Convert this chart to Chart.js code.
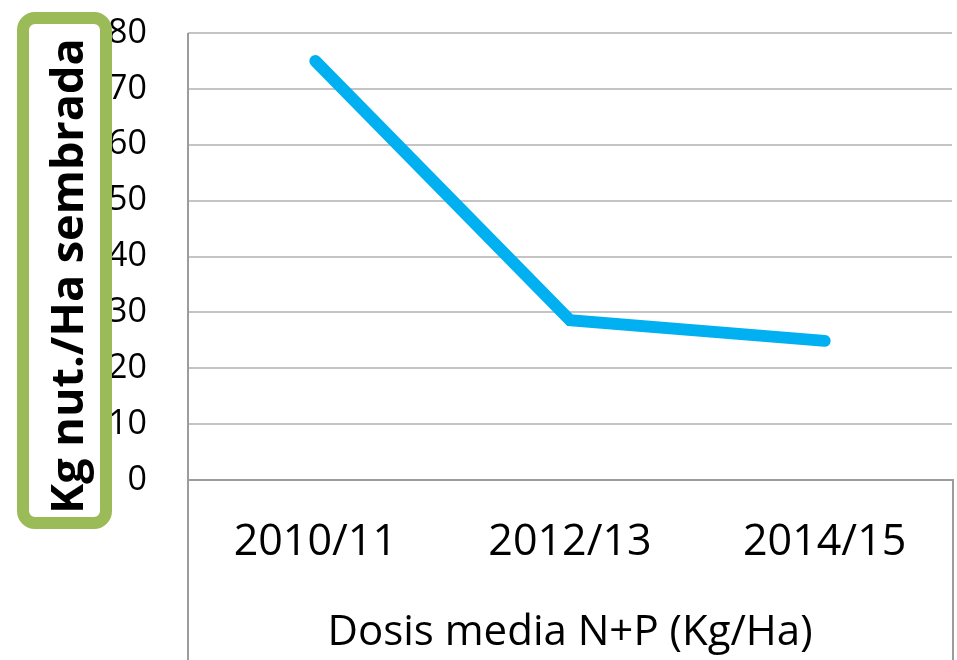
<!DOCTYPE html>
<html lang="es">
<head>
<meta charset="utf-8">
<title>Dosis media N+P</title>
<script src="https://cdn.jsdelivr.net/npm/chart.js@4.4.1/dist/chart.umd.min.js"></script>
<style>
    html, body { margin: 0; padding: 0; background: #fff; }
    #wrap { width: 957px; height: 660px; }
</style>
</head>
<body>
<div id="wrap"><canvas id="chart" width="957" height="660"></canvas></div>
<script>
/* ============================
   Data
   ============================ */
const campaigns = ['2010/11', '2012/13', '2014/15'];
const doseValues = [75, 28.6, 24.9];
const yTicks = [0, 10, 20, 30, 40, 50, 60, 70, 80];

const yTitle = 'Kg nut./Ha sembrada';
const xTitle = 'Dosis media N+P (Kg/Ha)';

const FONT = '"Open Sans", "Noto Sans", sans-serif';
const AXIS_GRAY = '#9c9c9c';

// Box under the plot area + vertical axis running to the bottom edge
const frameLines = {
    id: 'frameLines',
    afterDraw(chart) {
        const { ctx, chartArea } = chart;
        const h = chart.height;
        ctx.save();
        ctx.strokeStyle = AXIS_GRAY;
        ctx.lineWidth = 2;
        ctx.beginPath();
        ctx.moveTo(chartArea.left, chartArea.top);
        ctx.lineTo(chartArea.left, h);
        ctx.moveTo(chartArea.left, chartArea.bottom);
        ctx.lineTo(chartArea.right + 1, chartArea.bottom);
        ctx.lineTo(chartArea.right + 1, h);
        ctx.stroke();
        ctx.restore();
    }
};

// Green rounded box holding the rotated y title (drawn over the tick labels)
const titleBox = {
    id: 'titleBox',
    afterDraw(chart) {
        const ctx = chart.ctx;
        ctx.save();
        ctx.beginPath();
        ctx.roundRect(23, 18, 83, 505, 12);
        ctx.fillStyle = '#fff';
        ctx.fill();
        ctx.lineWidth = 12;
        ctx.strokeStyle = '#9bbb59';
        ctx.stroke();

        ctx.translate(83, 276);
        ctx.rotate(-Math.PI / 2);
        ctx.font = `bold 45px ${FONT}`;
        ctx.fillStyle = '#000';
        ctx.textAlign = 'center';
        ctx.textBaseline = 'alphabetic';
        ctx.fillText(yTitle, 0, 0);
        ctx.restore();
    }
};

new Chart(document.getElementById('chart'), {
    type: 'line',
    data: {
        labels: campaigns,
        datasets: [{
            data: doseValues,
            borderColor: '#00b0f0',
            borderWidth: 12,
            borderCapStyle: 'round',
            borderJoinStyle: 'miter',
            pointRadius: 0,
            pointHoverRadius: 0,
            tension: 0,
            fill: false
        }]
    },
    options: {
        responsive: false,
        animation: false,
        events: [],
        layout: { padding: { top: 33, right: 5, left: 0, bottom: 0 } },
        plugins: {
            legend: { display: false },
            tooltip: { enabled: false }
        },
        scales: {
            x: {
                offset: true,
                afterFit: s => { s.height = 180; },
                grid: { display: false, drawTicks: false },
                border: { display: false },
                ticks: {
                    color: '#000',
                    padding: 37,
                    maxRotation: 0,
                    font: { family: FONT, size: 43 }
                },
                title: {
                    display: true,
                    text: xTitle,
                    color: '#000',
                    padding: { top: 0, bottom: 2 },
                    font: { family: FONT, size: 42 }
                }
            },
            y: {
                min: yTicks[0],
                max: yTicks[yTicks.length - 1],
                afterFit: s => { s.width = 188; },
                afterBuildTicks: s => { s.ticks = yTicks.map(v => ({ value: v })); },
                // invisible tick marks push the labels away from the axis
                // (ticks.padding would also add to the top inset)
                grid: {
                    color: '#c4c4c4',
                    lineWidth: 2,
                    drawTicks: true,
                    tickLength: 41,
                    tickColor: 'rgba(0,0,0,0)'
                },
                border: { display: false },
                ticks: {
                    color: '#000',
                    padding: 0,
                    font: { family: FONT, size: 34 }
                }
            }
        }
    },
    plugins: [frameLines, titleBox]
});
</script>
</body>
</html>
